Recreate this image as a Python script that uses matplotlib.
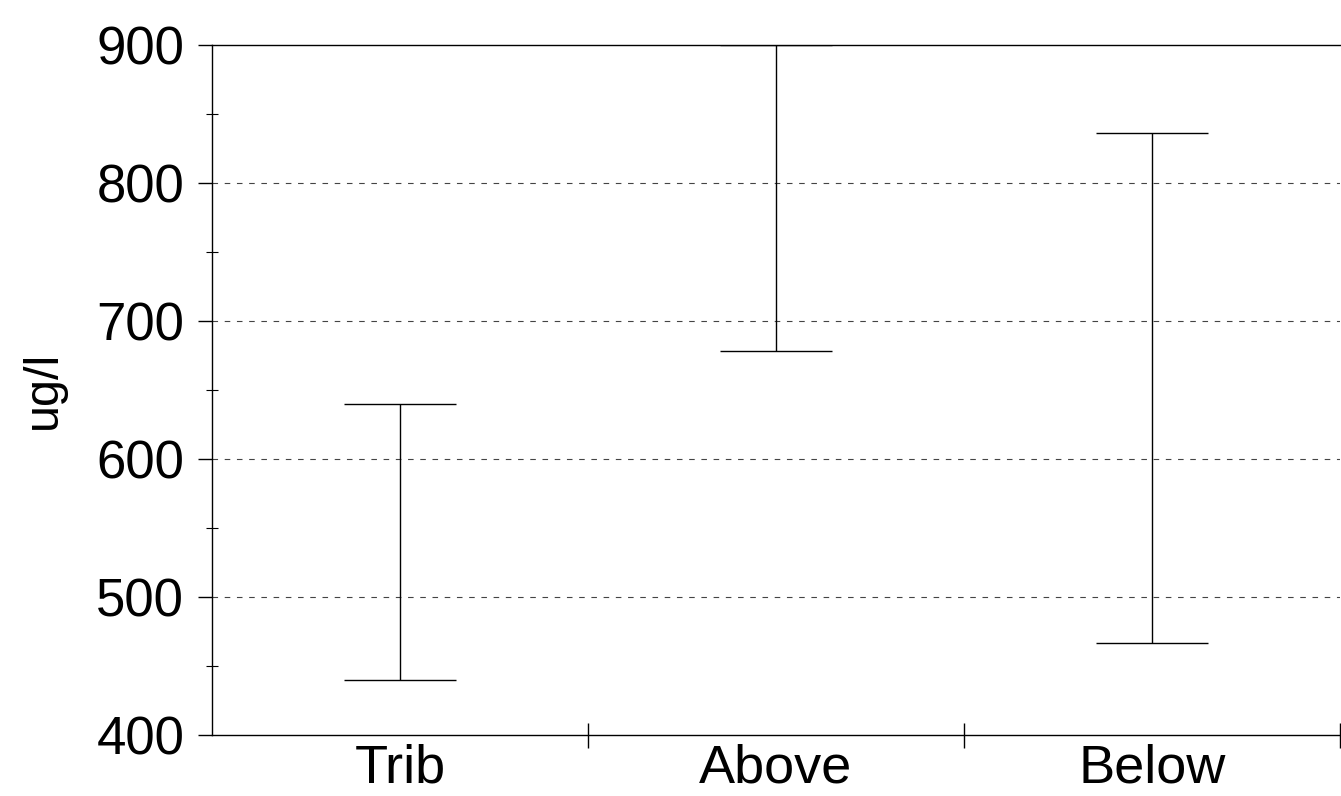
import matplotlib
matplotlib.use("Agg")
import matplotlib.pyplot as plt
import numpy as np
from matplotlib.ticker import MultipleLocator

categories = ["Trib", "Above", "Below"]
lows = [440, 678, 467]
highs = [640, 900, 836]

plt.rcParams['font.family'] = ['Liberation Sans', 'DejaVu Sans']
fig = plt.figure(figsize=(13.41, 7.96), dpi=100)
ax = fig.add_axes([212/1341, 61/796, (1340-212)/1341, (735-45)/796])

x = np.arange(len(categories))
mid = [(l + h) / 2 for l, h in zip(lows, highs)]
err = [[m - l for m, l in zip(mid, lows)], [h - m for h, m in zip(highs, mid)]]
ax.errorbar(x, mid, yerr=err, fmt='none', ecolor='black', elinewidth=1.0,
            capsize=40, capthick=1.0)

ax.set_xlim(-0.5, 2.5)
ax.set_ylim(400, 900)
ax.yaxis.set_major_locator(MultipleLocator(100))
ax.yaxis.set_minor_locator(MultipleLocator(50))
ax.set_xticks([0.5, 1.5, 2.5])
ax.set_xticklabels([])
ax.set_xticks(x, minor=True)
ax.set_xticklabels(categories, minor=True, fontsize=39)
ax.tick_params(axis='x', which='minor', length=0, pad=6)
ax.tick_params(axis='x', which='major', direction='inout', length=18, width=1)
ax.tick_params(axis='y', which='major', direction='out', length=10, width=1,
               labelsize=38, pad=10)
ax.tick_params(axis='y', which='minor', direction='inout', length=8, width=0.8)

for v in [500, 600, 700, 800]:
    ax.axhline(v, color='#444444', linestyle=(0, (5, 6)), linewidth=0.8, zorder=0)

ax.spines['right'].set_visible(False)
for s in ['left', 'top', 'bottom']:
    ax.spines[s].set_linewidth(1.0)

ax.set_ylabel("ug/l", fontsize=35, labelpad=22)

fig.savefig("out.png", dpi=100)
